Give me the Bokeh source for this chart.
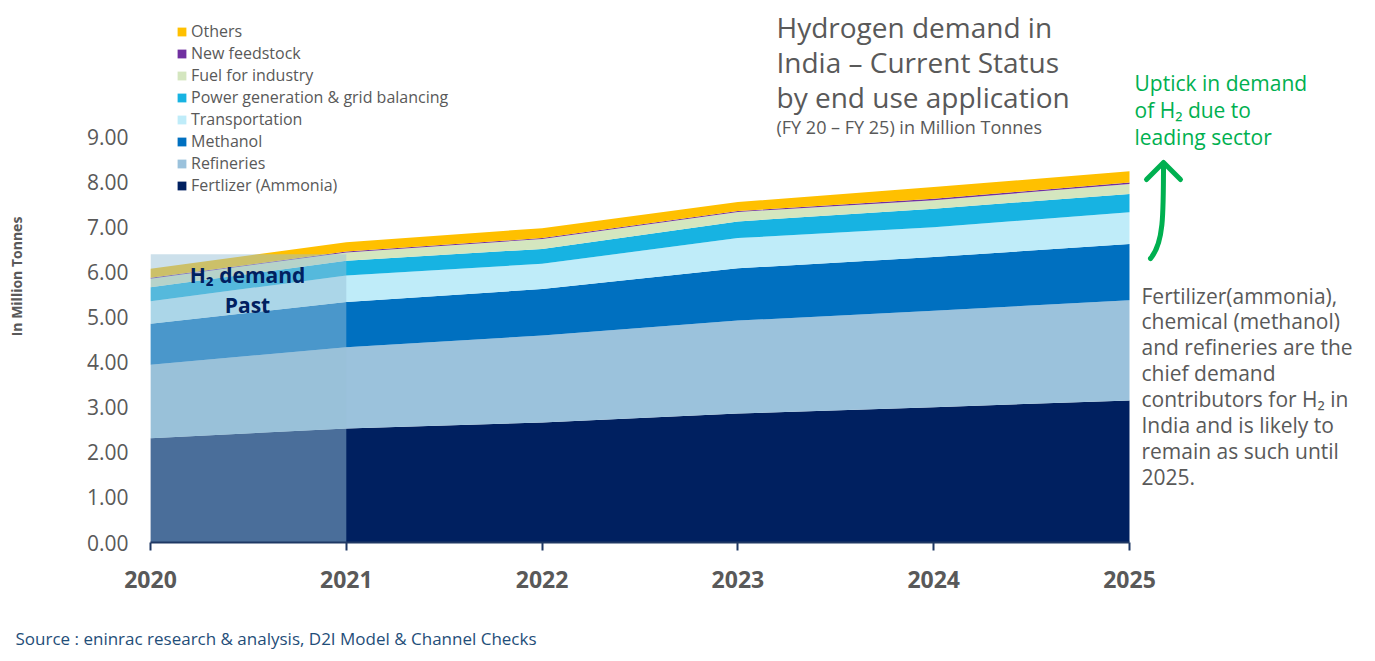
from bokeh.plotting import figure
from bokeh.layouts import column
from bokeh.models import (ColumnDataSource, Legend, LegendItem, Label, FixedTicker,
                          NumeralTickFormatter, Range1d)
from bokeh.embed import file_html
from bokeh.resources import INLINE

# ---------------- data ----------------
years = [2020, 2021, 2022, 2023, 2024, 2025]
fertilizer = [2.31, 2.53, 2.66, 2.86, 3.00, 3.15]
refineries = [1.63, 1.80, 1.93, 2.06, 2.14, 2.22]
methanol = [0.91, 1.00, 1.03, 1.16, 1.19, 1.25]
transportation = [0.50, 0.59, 0.56, 0.67, 0.66, 0.70]
power_generation = [0.31, 0.33, 0.33, 0.37, 0.41, 0.41]
fuel_for_industry = [0.19, 0.18, 0.22, 0.21, 0.19, 0.22]
new_feedstock = [0.02, 0.02, 0.02, 0.02, 0.03, 0.03]
others = [0.20, 0.21, 0.22, 0.20, 0.26, 0.25]

series_names = ["Fertlizer (Ammonia)", "Refineries", "Methanol", "Transportation",
                "Power generation & grid balancing", "Fuel for industry",
                "New feedstock", "Others"]
series_keys = ["fert", "ref", "meth", "trans", "power", "fuel", "newf", "oth"]
series_colors = ["#002060", "#9bc2dc", "#0070c0", "#bfecf9", "#17b3e2", "#d4e6bf",
                 "#7030a0", "#ffc000"]
y_ticks = [0, 1, 2, 3, 4, 5, 6, 7, 8, 9]
past_box_top = 6.39
source_text = "Source : eninrac research & analysis, D2I Model & Channel Checks"

# ---------------- geometry ----------------
W, H = 1370, 620
FOOT_H = 41
PX_PER_YEAR = 195.8
PX_PER_UNIT = 45.1
FRAME_LEFT = 150
FRAME_BOTTOM = 542
FRAME_TOP = 10


def sx(px):
    return years[0] + (px - FRAME_LEFT) / PX_PER_YEAR


def sy(py):
    return (FRAME_BOTTOM - py) / PX_PER_UNIT


x_end = sx(W)
y_end = sy(FRAME_TOP)

src = ColumnDataSource(dict(year=years, fert=fertilizer, ref=refineries, meth=methanol,
                            trans=transportation, power=power_generation,
                            fuel=fuel_for_industry, newf=new_feedstock, oth=others))

p = figure(width=W, height=H, x_range=Range1d(years[0], x_end), y_range=Range1d(0, y_end),
           output_backend="svg", toolbar_location=None,
           min_border_left=FRAME_LEFT, min_border_right=0, min_border_top=FRAME_TOP,
           min_border_bottom=H - FRAME_BOTTOM)
p.frame_align = False
p.outline_line_color = None
p.xgrid.visible = False
p.ygrid.visible = False
p.background_fill_color = "white"

rs = p.varea_stack(stackers=series_keys, x="year", color=series_colors, source=src)

# "Past" overlay
p.quad(left=[years[0]], right=[years[1]], bottom=[0], top=[past_box_top],
       fill_color="#97bfd6", fill_alpha=0.49, line_color=None)

# axes
xa = p.xaxis[0]
xa.bounds = (years[0], years[-1])
xa.ticker = FixedTicker(ticks=years)
xa.minor_tick_line_color = None
xa.major_tick_in = 0
xa.major_tick_out = 8
xa.axis_line_color = "#1f3864"
xa.axis_line_width = 2
xa.major_tick_line_color = "#1f3864"
xa.major_tick_line_width = 2
xa.major_label_text_font = "Open Sans"
xa.major_label_text_font_style = "bold"
xa.major_label_text_font_size = "23px"
xa.major_label_text_color = "#595959"
xa.major_label_standoff = 20

ya = p.yaxis[0]
ya.ticker = FixedTicker(ticks=y_ticks)
ya.formatter = NumeralTickFormatter(format="0.00")
ya.axis_line_color = None
ya.major_tick_line_color = None
ya.minor_tick_line_color = None
ya.major_tick_in = 0
ya.major_tick_out = 0
ya.major_label_text_font = "Open Sans"
ya.major_label_text_font_size = "21px"
ya.major_label_text_color = "#595959"
ya.major_label_standoff = 22
ya.axis_label = "In Million Tonnes"
ya.axis_label_text_font = "Open Sans"
ya.axis_label_text_font_style = "bold"
ya.axis_label_text_font_size = "14px"
ya.axis_label_text_color = "#595959"
ya.axis_label_standoff = 58

# legend
items = [LegendItem(label=n, renderers=[r]) for n, r in zip(series_names, rs)][::-1]
legend = Legend(items=items, location=(26, 346), orientation="vertical",
                label_text_font="Open Sans", label_text_font_size="16px",
                label_text_color="#595959", glyph_width=11, glyph_height=11,
                label_height=22, label_standoff=4, spacing=0, padding=0, margin=0,
                border_line_color=None, background_fill_alpha=0)
p.add_layout(legend)

GREY = "#595959"


def add_label(x, y, text, size, color=GREY, style="normal", align="left", font="Open Sans"):
    p.add_layout(Label(x=sx(x), y=sy(y), text=text, text_font=font,
                       text_font_size=size, text_color=color, text_font_style=style,
                       text_align=align, text_baseline="middle"))


# title
for i, t in enumerate(["Hydrogen demand in", "India \u2013 Current Status",
                       "by end use application"]):
    add_label(776, 26.5 + i * 35, t, "28px")
add_label(776, 126, "(FY 20 \u2013 FY 25) in Million Tonnes", "18px")

# green note
GREEN = "#00b050"
for i, t in enumerate(["Uptick in demand", "of H\u2082 due to", "leading sector"]):
    add_label(1134, 82 + i * 27, t, "21px", color=GREEN)

# right note
note = ["Fertilizer(ammonia),", "chemical (methanol)", "and refineries are the",
        "chief demand", "contributors for H\u2082 in", "India and is likely to",
        "remain as such until", "2025."]
for i, t in enumerate(note):
    add_label(1141, 295 + i * 25.9, t, "21px")

# past label
add_label(247, 274, "H\u2082 demand", "21px", color="#002060", style="bold", align="center")
add_label(247, 304, "Past", "21px", color="#002060", style="bold", align="center")

# green arrow
p.bezier(x0=[sx(1150)], y0=[sy(258)], x1=[sx(1163)], y1=[sy(163)],
         cx0=[sx(1163)], cy0=[sy(243)], cx1=[sx(1163)], cy1=[sy(215)],
         line_width=5, line_color=GREEN, line_cap="round")
p.line([sx(1146), sx(1163), sx(1180)], [sy(179), sy(162), sy(179)],
       line_width=5, line_color=GREEN, line_cap="round", line_join="round")

# footer strip with the source line
foot = figure(width=W, height=FOOT_H, x_range=Range1d(0, W), y_range=Range1d(0, FOOT_H),
              output_backend="svg", toolbar_location=None, min_border=0,
              x_axis_location=None, y_axis_location=None)
foot.frame_align = False
foot.outline_line_color = None
foot.xgrid.visible = False
foot.ygrid.visible = False
foot.add_layout(Label(x=15, y=FOOT_H - 18, text=source_text, text_font="Open Sans",
                      text_font_size="17px", text_color="#1f4e79",
                      text_baseline="middle"))

open("out.html", "w").write(file_html(column(p, foot), INLINE))
